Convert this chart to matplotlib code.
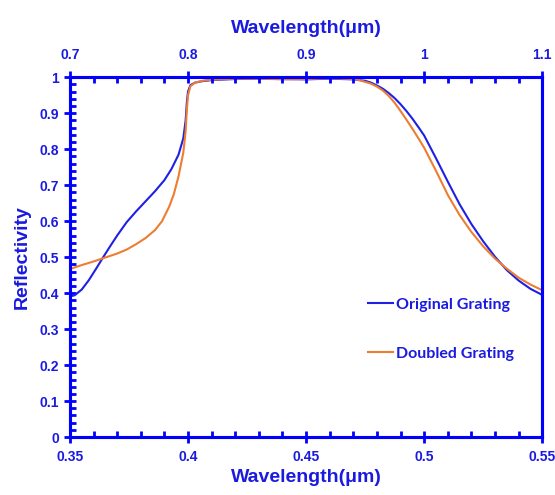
import matplotlib.pyplot as plt
from matplotlib.ticker import MultipleLocator, FuncFormatter

# reflectivity spectra of the two gratings
wl_orig = [0.350, 0.352, 0.355, 0.358, 0.361, 0.364, 0.367, 0.370, 0.374, 0.378,
           0.382, 0.386, 0.390, 0.393, 0.396, 0.398, 0.399, 0.3995, 0.400, 0.401,
           0.403, 0.406, 0.410, 0.420, 0.430, 0.440, 0.450, 0.460, 0.470, 0.475,
           0.4775, 0.480, 0.4825, 0.485, 0.4875, 0.490, 0.4925, 0.495, 0.4975,
           0.500, 0.505, 0.510, 0.515, 0.520, 0.525, 0.530, 0.535, 0.540, 0.545, 0.550]
r_orig = [0.391, 0.394, 0.410, 0.436, 0.467, 0.499, 0.530, 0.560, 0.597, 0.627,
          0.655, 0.683, 0.714, 0.745, 0.785, 0.830, 0.880, 0.930, 0.960, 0.978,
          0.985, 0.989, 0.992, 0.995, 0.996, 0.995, 0.994, 0.996, 0.994, 0.990,
          0.985, 0.977, 0.968, 0.956, 0.942, 0.925, 0.906, 0.885, 0.862,
          0.838, 0.775, 0.710, 0.647, 0.592, 0.544, 0.501, 0.464, 0.435, 0.412, 0.395]

wl_doub = [0.350, 0.355, 0.360, 0.365, 0.370, 0.374, 0.378, 0.382, 0.386, 0.389,
           0.392, 0.394, 0.396, 0.398, 0.399, 0.3995, 0.400, 0.401, 0.403, 0.406,
           0.410, 0.420, 0.430, 0.440, 0.450, 0.460, 0.470, 0.4725, 0.475, 0.4775,
           0.480, 0.4825, 0.485, 0.4875, 0.490, 0.4925, 0.495, 0.4975, 0.500,
           0.505, 0.510, 0.515, 0.520, 0.525, 0.530, 0.535, 0.540, 0.545, 0.550]
r_doub = [0.467, 0.478, 0.488, 0.499, 0.510, 0.521, 0.536, 0.553, 0.575, 0.600,
          0.640, 0.675, 0.725, 0.790, 0.850, 0.910, 0.950, 0.975, 0.985, 0.990,
          0.993, 0.996, 0.996, 0.994, 0.995, 0.997, 0.995, 0.992, 0.987, 0.982,
          0.974, 0.963, 0.948, 0.929, 0.906, 0.882, 0.857, 0.831, 0.804,
          0.740, 0.673, 0.617, 0.570, 0.530, 0.496, 0.468, 0.443, 0.424, 0.408]

blue = '#0000ff'
txt = '#1a1ae0'
plt.rcParams['font.family'] = ['Liberation Sans', 'DejaVu Sans']

fig = plt.figure(figsize=(5.55, 4.95), dpi=100)
ax = fig.add_axes([0.126, 0.117, 0.851, 0.727])

ax.plot(wl_orig, r_orig, color='#1f1fe6', lw=1.5, label='Original Grating')
ax.plot(wl_doub, r_doub, color='#ed7d31', lw=1.5, label='Doubled Grating')

ax.set_xlim(0.35, 0.55)
ax.set_ylim(0, 1)
ax.xaxis.set_major_locator(MultipleLocator(0.05))
ax.xaxis.set_minor_locator(MultipleLocator(0.01))
ax.yaxis.set_major_locator(MultipleLocator(0.1))
ax.yaxis.set_minor_locator(MultipleLocator(0.02))
fmt = FuncFormatter(lambda v, p: '%g' % round(v, 3))
ax.xaxis.set_major_formatter(fmt)
ax.yaxis.set_major_formatter(fmt)

# top axis: doubled wavelength scale
top = ax.twiny()
top.set_xlim(0.7, 1.1)
top.xaxis.set_major_locator(MultipleLocator(0.1))
top.xaxis.set_minor_locator(MultipleLocator(0.02))
top.xaxis.set_major_formatter(fmt)

for a in (ax, top):
    for s in a.spines.values():
        s.set_color(blue)
        s.set_linewidth(2.2)
    a.tick_params(which='major', direction='inout', length=8, width=2, color=blue,
                  labelcolor=txt, labelsize=10)
    a.tick_params(which='minor', direction='in', length=4, width=2, color=blue)
    for lab in a.get_xticklabels() + a.get_yticklabels():
        lab.set_fontweight('bold')

ax.tick_params(axis='x', pad=5)
top.tick_params(axis='x', pad=7)
ax.tick_params(axis='y', pad=4)

ax.set_xlabel('Wavelength(μm)', fontsize=14, fontweight='bold', color=txt, labelpad=4)
top.set_xlabel('Wavelength(μm)', fontsize=14, fontweight='bold', color=txt, labelpad=11)
ax.set_ylabel('Reflectivity', fontsize=14, fontweight='bold', color=txt, labelpad=6)

leg = ax.legend(loc='center left', bbox_to_anchor=(0.6, 0.3), frameon=False,
                handlelength=1.6, handletextpad=0.2, labelspacing=2.2,
                prop={'family': 'Lato', 'weight': 'bold', 'size': 11.5})
for t in leg.get_texts():
    t.set_color(txt)

fig.savefig('out.png', dpi=100)
